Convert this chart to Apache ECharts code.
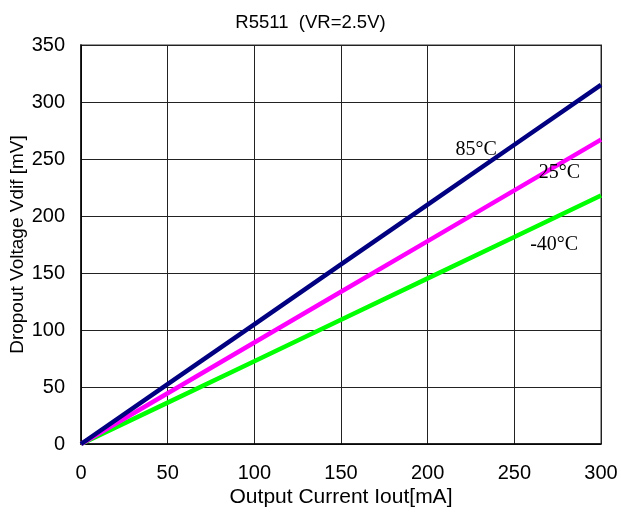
<!DOCTYPE html>
<html><head><meta charset="utf-8">
<script src="https://cdn.jsdelivr.net/npm/echarts@6/dist/echarts.min.js"></script>
<style>html,body{margin:0;padding:0;background:#fff}#c{width:621px;height:513px}</style>
</head><body><div id="c"></div>
<script>
const xValues = [0, 50, 100, 150, 200, 250, 300];
const v85 = [0, 52.5, 105, 157.5, 210, 262.5, 315];
const v25 = [0, 44.5, 89, 133.5, 178, 222.5, 267];
const vm40 = [0, 36.3, 72.6, 109, 145.3, 181.6, 218];
const seriesNames = ['85°C', '25°C', '-40°C'];
const seriesColors = ['#000080', '#ff00ff', '#00ff00'];
const labelPos = [[228, 258], [276, 238], [273, 175]];
const allData = [v85, v25, vm40];

const chart = echarts.init(document.getElementById('c'));
chart.setOption({
  animation: false,
  title: { text: 'R5511  (VR=2.5V)', left: 'center', top: 8,
    textStyle: { fontFamily: 'Liberation Sans', fontSize: 18.5, fontWeight: 'normal', color: '#000' } },
  grid: { left: 81, right: 20, top: 45, bottom: 69, show: true, borderColor: '#999', borderWidth: 2,
    containLabel: false, outerBoundsMode: 'none' },
  xAxis: { type: 'value', min: 0, max: 300, interval: 50,
    name: 'Output Current Iout[mA]', nameLocation: 'middle', nameGap: 43, nameMoveOverlap: false,
    nameTextStyle: { fontFamily: 'Liberation Sans', fontSize: 21, color: '#000' },
    axisLine: { show: true, lineStyle: { color: '#000', width: 1.5 } }, axisTick: { show: false },
    axisLabel: { fontFamily: 'Liberation Sans', fontSize: 20, color: '#000', margin: 19 },
    splitLine: { show: true, lineStyle: { color: '#222', width: 1 } } },
  yAxis: { type: 'value', min: 0, max: 350, interval: 50,
    name: 'Dropout Voltage Vdif [mV]', nameLocation: 'middle', nameGap: 54, nameMoveOverlap: false,
    nameTextStyle: { fontFamily: 'Liberation Sans', fontSize: 19, color: '#000' },
    axisLine: { show: true, lineStyle: { color: '#000', width: 1.5 } }, axisTick: { show: false },
    axisLabel: { fontFamily: 'Liberation Sans', fontSize: 20, color: '#000', margin: 16 },
    splitLine: { show: true, lineStyle: { color: '#222', width: 1 } } },
  series: allData.map((d, i) => ({
    name: seriesNames[i], type: 'line', symbol: 'none',
    data: xValues.map((x, j) => [x, d[j]]),
    lineStyle: { color: seriesColors[i], width: 4.5 },
    z: 3 - i + 2,
    markPoint: { symbol: 'circle', symbolSize: 0, silent: true,
      data: [{ coord: labelPos[i], value: seriesNames[i] }],
      label: { show: true, position: 'inside', formatter: seriesNames[i],
        fontFamily: 'Liberation Serif', fontSize: 20, color: '#000' } }
  }))
});
</script></body></html>
